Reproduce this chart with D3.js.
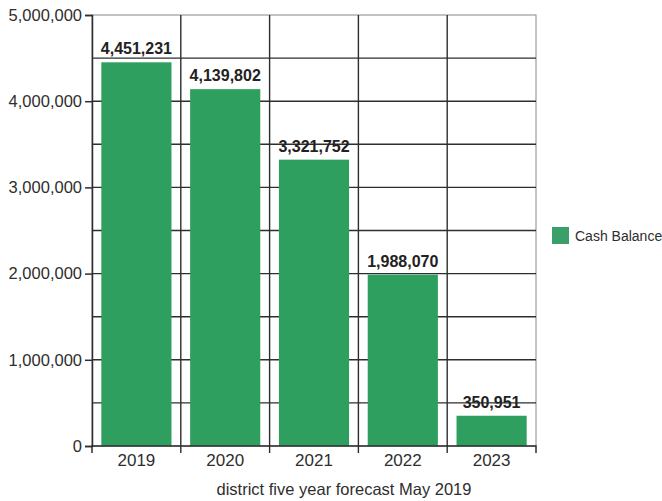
<!DOCTYPE html>
<head>
<meta charset="utf-8">
<script src="https://d3js.org/d3.v7.min.js"></script>
<style>
  body { margin: 0; background: #fff; }
  text { font-family: "Liberation Sans", Arial, sans-serif; }
</style>
</head>
<body>
<div id="datavis"></div>
<script>
    // data
    var years = ["2019", "2020", "2021", "2022", "2023"];
    var cashBalance = [4451231, 4139802, 3321752, 1988070, 350951];
    var yTicks = [0, 1000000, 2000000, 3000000, 4000000, 5000000];
    var gridValues = [500000, 1000000, 1500000, 2000000, 2500000, 3000000, 3500000, 4000000, 4500000];
    var seriesName = "Cash Balance";
    var title = "district five year forecast May 2019";

    var margin = {top: 15, right: 126, bottom: 55, left: 92},
        width = 662 - margin.left - margin.right,
        height = 501 - margin.top - margin.bottom;

    var green = "#2e9f5e";
    var ink = "#2e2e2e";

    var svg = d3.select("#datavis")
                .append("svg")
                .attr("width", 662)
                .attr("height", 501)
                .append("g")
                .attr("transform", "translate(" + margin.left + "," + margin.top + ")");

    var x = d3.scaleBand()
              .domain(years)
              .range([0, width])
              .paddingInner(0.21)
              .paddingOuter(0.105);

    var y = d3.scaleLinear()
              .domain([0, 5000000])
              .range([height, 0]);

    // plot frame (top and right, lighter)
    svg.append("rect")
       .attr("x", 0).attr("y", 0)
       .attr("width", width).attr("height", height)
       .attr("fill", "none")
       .attr("stroke", "#888")
       .attr("stroke-width", 1);

    // horizontal grid lines
    svg.append("g")
       .selectAll("line")
       .data(gridValues)
       .enter().append("line")
       .attr("x1", 0).attr("x2", width)
       .attr("y1", function(d) { return y(d); })
       .attr("y2", function(d) { return y(d); })
       .attr("stroke", ink)
       .attr("stroke-width", 1.4);

    // vertical grid lines at category boundaries
    var step = x.step();
    var bounds = d3.range(1, years.length);
    svg.append("g")
       .selectAll("line")
       .data(bounds)
       .enter().append("line")
       .attr("x1", function(d) { return x(years[d]) - (step - x.bandwidth()) / 2; })
       .attr("x2", function(d) { return x(years[d]) - (step - x.bandwidth()) / 2; })
       .attr("y1", 0).attr("y2", height + 7)
       .attr("stroke", ink)
       .attr("stroke-width", 1.4);

    // bars
    svg.append("g")
       .selectAll("rect")
       .data(cashBalance)
       .enter().append("rect")
       .attr("x", function(d, i) { return x(years[i]); })
       .attr("y", function(d) { return y(d); })
       .attr("width", x.bandwidth())
       .attr("height", function(d) { return height - y(d); })
       .attr("fill", green);

    // value labels
    svg.append("g")
       .selectAll("text")
       .data(cashBalance)
       .enter().append("text")
       .attr("x", function(d, i) { return x(years[i]) + x.bandwidth() / 2; })
       .attr("y", function(d) { return y(d) - 8; })
       .attr("text-anchor", "middle")
       .attr("font-size", "16px")
       .attr("font-weight", "bold")
       .attr("fill", "#222")
       .text(function(d) { return d3.format(",")(d); });

    // Y axis
    var yAxis = svg.append("g")
       .call(d3.axisLeft(y).tickValues(yTicks).tickFormat(d3.format(",")).tickSize(7).tickPadding(3));
    yAxis.select(".domain").attr("stroke", ink).attr("stroke-width", 1.5);
    yAxis.selectAll(".tick line").attr("stroke", ink).attr("stroke-width", 1.5);
    yAxis.selectAll(".tick text").attr("fill", ink).attr("font-size", "16.5px")
         .attr("font-family", "'Liberation Sans', Arial, sans-serif");

    // X axis
    var xAxis = svg.append("g")
       .attr("transform", "translate(0," + height + ")")
       .call(d3.axisBottom(x).tickSize(0).tickPadding(8));
    xAxis.select(".domain").attr("stroke", ink).attr("stroke-width", 1.5)
         .attr("d", "M0,7V0H" + width + "V7");
    xAxis.selectAll(".tick text").attr("fill", ink).attr("font-size", "17px")
         .attr("font-family", "'Liberation Sans', Arial, sans-serif");

    // axis title
    svg.append("text")
       .attr("x", 344 - margin.left)
       .attr("y", 495 - margin.top)
       .attr("text-anchor", "middle")
       .attr("font-size", "16.5px")
       .attr("fill", ink)
       .text(title);

    // legend
    var legend = svg.append("g")
       .attr("transform", "translate(" + (552 - margin.left) + "," + (227 - margin.top) + ")");
    legend.append("rect")
       .attr("width", 17).attr("height", 17)
       .attr("fill", "#3a9f68");
    legend.append("text")
       .attr("x", 23).attr("y", 14)
       .attr("font-size", "14px")
       .attr("fill", ink)
       .text(seriesName);
</script>
</body>
